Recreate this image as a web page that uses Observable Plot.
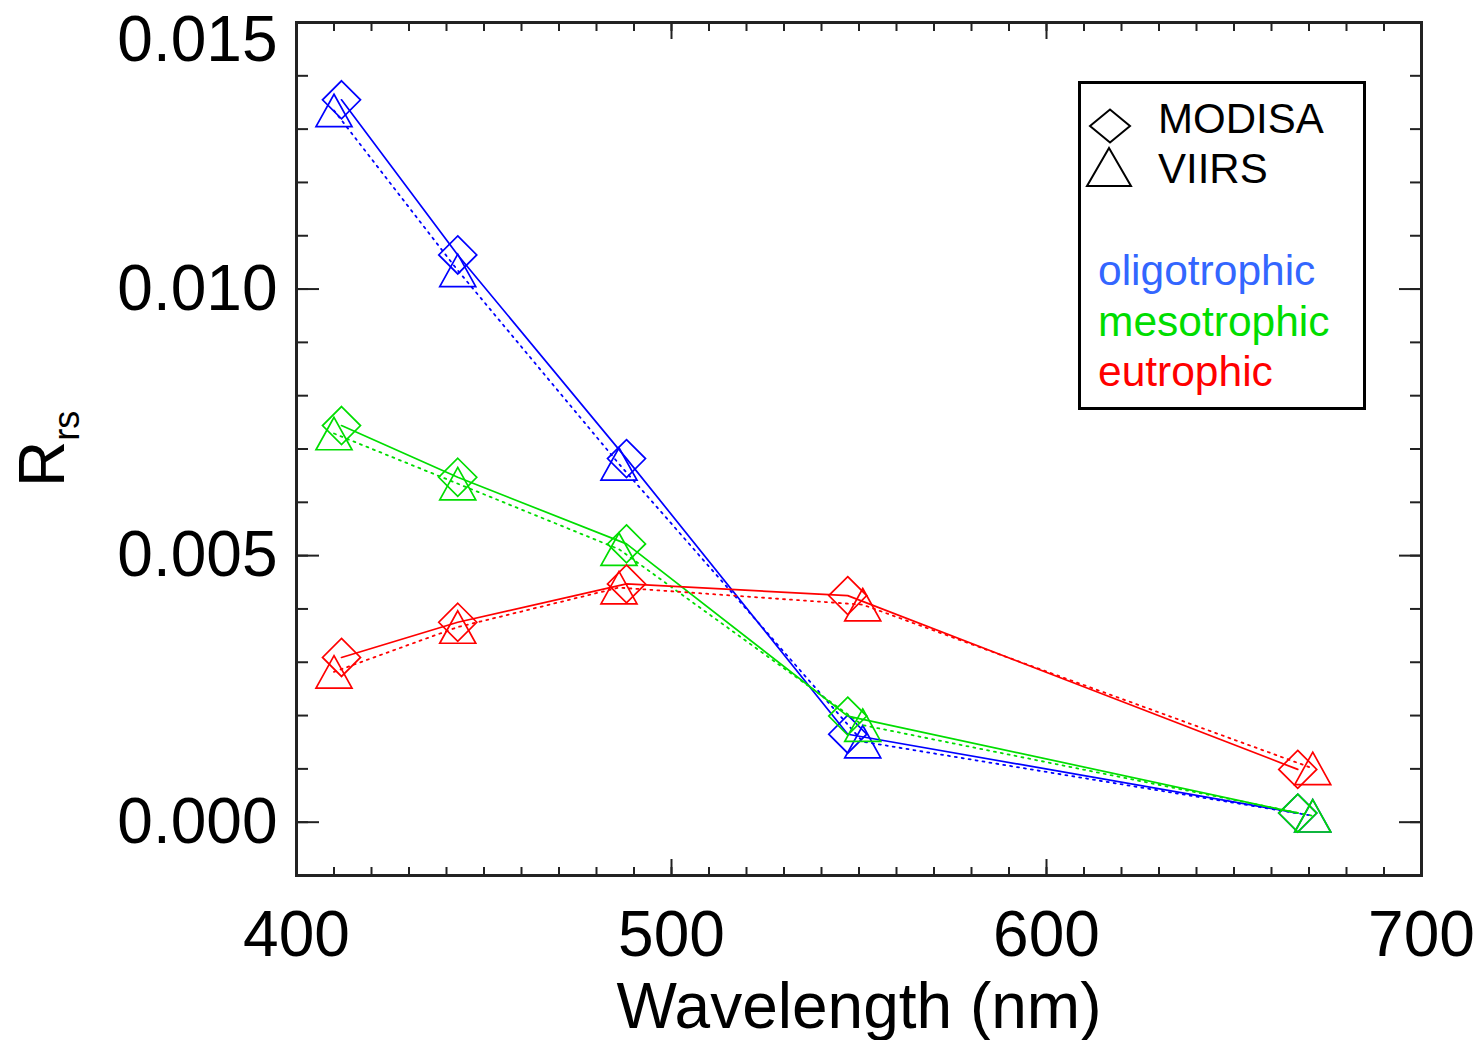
<!DOCTYPE html>
<html>
<head>
<meta charset="utf-8">
<script src="https://cdn.jsdelivr.net/npm/d3@7"></script>
<script src="https://cdn.jsdelivr.net/npm/@observablehq/plot@0.6"></script>
<style>
  body { margin: 0; background: #fff; }
  #wrap { position: relative; width: 1479px; height: 1040px; font-family: "Liberation Sans", Arial, Helvetica, sans-serif; }
  #legend { position: absolute; left: 1076px; top: 79px; }
</style>
</head>
<body>
<div id="wrap"></div>
<script>
// ---- data ----
const modisaWavelengths = [412, 443, 488, 547, 667];
const viirsWavelengths  = [410, 443, 486, 551, 671];

const oligotrophicModisa = [0.01355, 0.01064, 0.00682, 0.00165, 0.00017];
const oligotrophicViirs  = [0.01335, 0.01035, 0.00672, 0.00151, 0.00012];
const mesotrophicModisa  = [0.00744, 0.00647, 0.00522, 0.00199, 0.00017];
const mesotrophicViirs   = [0.00729, 0.00635, 0.00512, 0.00182, 0.00012];
const eutrophicModisa    = [0.00309, 0.00375, 0.00447, 0.00425, 0.00099];
const eutrophicViirs     = [0.00282, 0.00366, 0.00440, 0.00408, 0.00101];

const classNames = ["oligotrophic", "mesotrophic", "eutrophic"];
const sensorNames = ["MODISA", "VIIRS"];
const lineColors = ["#0000ff", "#00dd00", "#ff0000"];
const legendColors = ["#3366ff", "#00dd00", "#ff0000"];

const xTickValues = [400, 500, 600, 700];
const xMinorTickValues = d3.range(400, 701, 10);
const yTickValues = [0.000, 0.005, 0.010];
const yTopTickValue = [0.015];
const yMajorTickValues = [0.000, 0.005, 0.010, 0.015];
const yMinorTickValues = d3.range(-1, 16).map(k => k / 1000);
const xLabel = "Wavelength (nm)";
const yLabelMain = "R";
const yLabelSub = "rs";

// ---- build table ----
const seriesValues = {
  oligotrophic: {MODISA: oligotrophicModisa, VIIRS: oligotrophicViirs},
  mesotrophic:  {MODISA: mesotrophicModisa,  VIIRS: mesotrophicViirs},
  eutrophic:    {MODISA: eutrophicModisa,    VIIRS: eutrophicViirs}
};
const wavelengthsBySensor = {MODISA: modisaWavelengths, VIIRS: viirsWavelengths};
const rows = [];
for (const c of classNames) for (const s of sensorNames) {
  wavelengthsBySensor[s].forEach((w, i) => rows.push({cls: c, sensor: s, wavelength: w, rrs: seriesValues[c][s][i]}));
}

// IDL-like symbols
const diamondSymbol = {draw(ctx, size) { const r = Math.sqrt(size / Math.PI);
  ctx.moveTo(0, -r); ctx.lineTo(r, 0); ctx.lineTo(0, r); ctx.lineTo(-r, 0); ctx.closePath(); }};
const triangleSymbol = {draw(ctx, size) { const r = Math.sqrt(size / Math.PI);
  ctx.moveTo(0, -0.9 * r); ctx.lineTo(r, 0.9 * r); ctx.lineTo(-r, 0.9 * r); ctx.closePath(); }};

const fmt = d3.format(".3f");
const font = "Liberation Sans, Arial, Helvetica, sans-serif";

const dataMarks = [];
classNames.forEach((c, i) => {
  const m = rows.filter(d => d.cls === c && d.sensor === "MODISA");
  const v = rows.filter(d => d.cls === c && d.sensor === "VIIRS");
  dataMarks.push(
    Plot.line(v, {x: "wavelength", y: "rrs", stroke: lineColors[i], strokeWidth: 1.8, strokeDasharray: "2,5"}),
    Plot.line(m, {x: "wavelength", y: "rrs", stroke: lineColors[i], strokeWidth: 1.7}),
    Plot.dot(m, {x: "wavelength", y: "rrs", stroke: lineColors[i], strokeWidth: 1.7, symbol: diamondSymbol, r: 19}),
    Plot.dot(v, {x: "wavelength", y: "rrs", stroke: lineColors[i], strokeWidth: 1.7, symbol: triangleSymbol, r: 18})
  );
});

const tickMarks = [];
for (const a of ["bottom", "top"]) {
  tickMarks.push(Plot.axisX({anchor: a, ticks: xMinorTickValues, tickSize: -8, fill: "none", label: null, stroke: "#222", strokeWidth: 2}));
  tickMarks.push(Plot.axisX({anchor: a, ticks: xTickValues, tickSize: -16, fill: "none", label: null, stroke: "#222", strokeWidth: 2}));
}
for (const a of ["left", "right"]) {
  tickMarks.push(Plot.axisY({anchor: a, ticks: yMinorTickValues, tickSize: -12, fill: "none", label: null, stroke: "#222", strokeWidth: 2}));
  tickMarks.push(Plot.axisY({anchor: a, ticks: yMajorTickValues, tickSize: -23, fill: "none", label: null, stroke: "#222", strokeWidth: 2}));
}

const svg = Plot.plot({
  width: 1479, height: 1040,
  marginLeft: 296, marginRight: 58, marginTop: 22, marginBottom: 165,
  x: {domain: [400, 700]},
  y: {domain: [-0.001, 0.015]},
  style: {fontFamily: font, background: "white", color: "black", overflow: "visible"},
  marks: [
    ...dataMarks,
    ...tickMarks,
    Plot.frame({stroke: "#222", strokeWidth: 3}),
    Plot.axisX({anchor: "bottom", ticks: xTickValues, tickSize: 0, tickPadding: 35, fontSize: 64, label: null, tickFormat: d3.format("d")}),
    Plot.axisY({anchor: "left", ticks: yTickValues, tickSize: 0, tickPadding: 19, fontSize: 64, label: null, tickFormat: fmt}),
    Plot.text(yTopTickValue, {y: d => d, text: d => fmt(d), frameAnchor: "left", textAnchor: "end", lineAnchor: "top", dx: -19, dy: -7, fontSize: 64}),
    Plot.text([xLabel], {text: d => d, frameAnchor: "bottom", lineAnchor: "bottom", dy: 152, fontSize: 64}),
    Plot.text([yLabelMain], {text: d => d, frameAnchor: "left", rotate: -90, lineAnchor: "middle", dx: -253, dy: 38, fontSize: 64})
  ]
});

// subscript for R_rs
d3.select(svg).selectAll("text").filter(function() { return this.textContent === yLabelMain; })
  .append("tspan").attr("dy", "15").attr("font-size", 36).text(yLabelSub);

document.getElementById("wrap").appendChild(svg);

// ---- legend ----
const lg = d3.select("#wrap").append("svg").attr("id", "legend")
  .attr("width", 292).attr("height", 336)
  .style("font-family", font);
lg.append("rect").attr("x", 3.5).attr("y", 3.5).attr("width", 285).attr("height", 326)
  .attr("fill", "white").attr("stroke", "black").attr("stroke-width", 3);
lg.append("path").attr("d", d3.line()([[14, 47], [34, 30.5], [54, 47], [34, 63.5]]) + "Z")
  .attr("fill", "none").attr("stroke", "black").attr("stroke-width", 2);
lg.append("path").attr("d", d3.line()([[33, 69], [55, 107], [11, 107]]) + "Z")
  .attr("fill", "none").attr("stroke", "black").attr("stroke-width", 2);
sensorNames.forEach((s, i) => {
  lg.append("text").attr("x", 82).attr("y", 54 + i * 50).attr("font-size", 42).attr("fill", "black").text(s);
});
classNames.forEach((c, i) => {
  lg.append("text").attr("x", 22).attr("y", 206 + i * 50.5).attr("font-size", 42.5).attr("fill", legendColors[i]).text(c);
});
</script>
</body>
</html>
